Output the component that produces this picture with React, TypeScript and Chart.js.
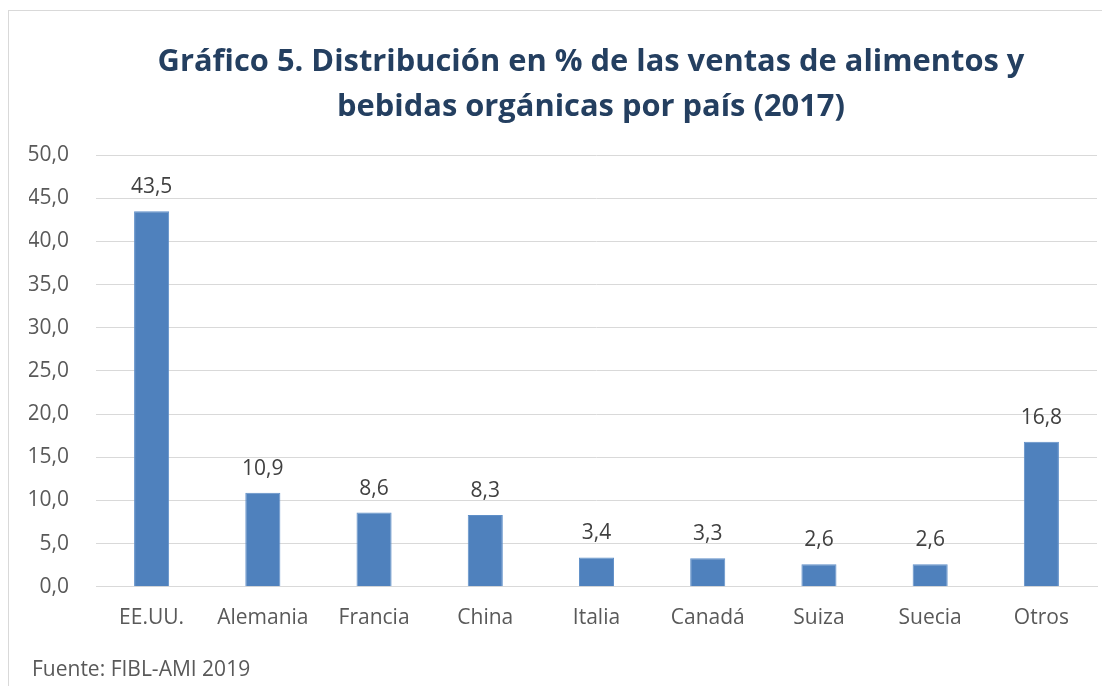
import React, { useEffect, useRef } from "react";
import { Chart, registerables } from "chart.js";

Chart.register(...registerables);

const categories = ["EE.UU.", "Alemania", "Francia", "China", "Italia", "Canadá", "Suiza", "Suecia", "Otros"];
const salesShare = [43.5, 10.9, 8.6, 8.3, 3.4, 3.3, 2.6, 2.6, 16.8];
const titleLines = [
  "Gráfico 5. Distribución en % de las ventas de alimentos y",
  "bebidas orgánicas por país (2017)",
];
const sourceNote = "Fuente: FIBL-AMI 2019";
const yMin = 0;
const yMax = 50;
const yStep = 5;

const FONT = "'Open Sans', 'Noto Sans', sans-serif";
const fmt = (v: number) => v.toFixed(1).replace(".", ",");

const textPlugin = {
  id: "textPlugin",
  afterDraw(chart: any) {
    const ctx = chart.ctx;
    ctx.save();
    const cx = 582;
    let size = 32;
    ctx.font = `bold ${size}px ${FONT}`;
    const w = ctx.measureText(titleLines[0]).width;
    size = Math.min(40, (size * 867) / w);
    ctx.font = `bold ${size}px ${FONT}`;
    ctx.fillStyle = "#243F60";
    ctx.textAlign = "center";
    ctx.textBaseline = "alphabetic";
    ctx.fillText(titleLines[0], cx, 60);
    ctx.fillText(titleLines[1], cx, 105);
    ctx.font = `21px ${FONT}`;
    ctx.fillStyle = "#595959";
    ctx.textAlign = "left";
    ctx.fillText(sourceNote, 23, 665);
    ctx.restore();
  },
  afterDatasetsDraw(chart: any) {
    const ctx = chart.ctx;
    const meta = chart.getDatasetMeta(0);
    const data = chart.data.datasets[0].data as number[];
    ctx.save();
    ctx.font = `21px ${FONT}`;
    ctx.fillStyle = "#404040";
    ctx.textAlign = "center";
    ctx.textBaseline = "alphabetic";
    meta.data.forEach((el: any, i: number) => {
      ctx.fillText(fmt(data[i]), el.x, el.y - 18);
    });
    ctx.restore();
  },
};

export default function App() {
  const ref = useRef<HTMLCanvasElement | null>(null);
  useEffect(() => {
    if (!ref.current) return;
    const chart = new Chart(ref.current, {
      type: "bar",
      data: {
        labels: categories,
        datasets: [
          {
            data: salesShare,
            backgroundColor: "#4F81BD",
            borderColor: "#5F8FC8",
            borderWidth: 1,
            barPercentage: 35 / 111,
            categoryPercentage: 1,
          },
        ],
      },
      options: {
        responsive: false,
        animation: false,
        layout: { padding: { top: 144, left: 20, right: 13, bottom: 44 } },
        plugins: {
          legend: { display: false },
          title: { display: false },
          tooltip: { enabled: false },
        },
        scales: {
          x: {
            grid: { display: false, drawTicks: false },
            border: { display: true, color: "#D9D9D9", width: 1 },
            ticks: { color: "#595959", font: { family: FONT, size: 21 }, padding: 19, maxRotation: 0 },
          },
          y: {
            min: yMin,
            max: yMax,
            grid: { color: "#D9D9D9", lineWidth: 1, drawTicks: false },
            border: { display: false },
            afterFit: (scale: any) => {
              scale.width = 67;
            },
            ticks: {
              stepSize: yStep,
              color: "#595959",
              font: { family: FONT, size: 21 },
              padding: 27,
              callback: (v: any) => fmt(Number(v)),
            },
          },
        },
      },
      plugins: [textPlugin],
    });
    return () => chart.destroy();
  }, []);

  return (
    <div style={{ width: 1102, height: 678, overflow: "hidden" }}>
      <div
        style={{
          marginTop: 2,
          width: 1200,
          height: 800,
          border: "1px solid #D9D9D9",
          boxSizing: "border-box",
          background: "#fff",
        }}
      >
        <canvas ref={ref} width={1101} height={683} style={{ display: "block" }} />
      </div>
    </div>
  );
}
